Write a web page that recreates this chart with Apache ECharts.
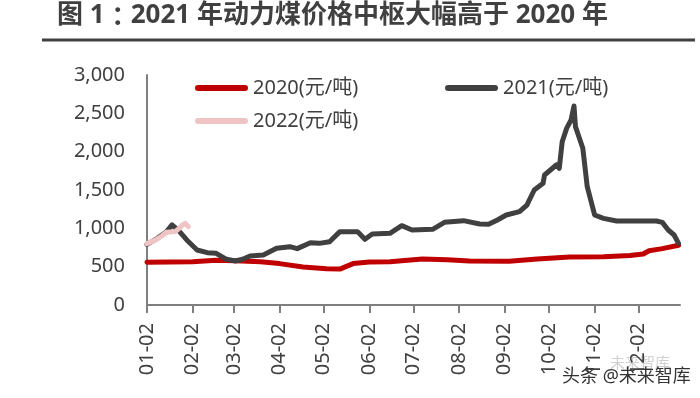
<!DOCTYPE html>
<html>
<head>
<meta charset="utf-8">
<script src="https://cdn.jsdelivr.net/npm/echarts@6/dist/echarts.min.js"></script>
<style>
  html, body { margin: 0; padding: 0; background: #fff; }
  #chart { width: 700px; height: 398px; }
</style>
</head>
<body>
<div id="chart"></div>
<script>
// 2021 calendar, daily categories from 01-02 to 12-30 (labels only on the 2nd)
const monthDays = [31, 28, 31, 30, 31, 30, 31, 31, 30, 31, 30, 31]
const firstDay = '01-02'
const lastDay = '12-30'

const names = ['2020(元/吨)', '2021(元/吨)', '2022(元/吨)']

// 2020
const dates2020 = ['01-02', '02-02', '02-18', '03-03', '03-20', '04-02', '04-18', '05-04', '05-13', '05-22',
  '06-02', '06-16', '07-08', '07-25', '08-09', '09-05', '09-24', '10-16', '11-08', '11-26',
  '12-05', '12-09', '12-18', '12-29']
const values2020 = [557, 565, 585, 578, 565, 540, 495, 472, 468, 540,
  560, 565, 600, 590, 574, 572, 600, 625, 628, 645,
  665, 708, 735, 780]

// 2021
const dates2021 = ['01-02', '01-09', '01-15', '01-19', '01-24', '01-29', '02-05', '02-12', '02-18', '02-25',
  '03-03', '03-08', '03-13', '03-22', '03-31', '04-09', '04-14', '04-23', '04-29', '05-06',
  '05-13', '05-25', '05-30', '06-04', '06-16', '06-24', '07-01', '07-15', '07-23', '08-05',
  '08-16', '08-22', '08-28', '09-03', '09-12', '09-17', '09-22', '09-28', '09-29', '10-07',
  '10-09', '10-11', '10-14', '10-17', '10-19', '10-20', '10-25', '10-28', '11-02', '11-08',
  '11-17', '12-14', '12-18', '12-22', '12-26', '12-29']
const values2021 = [790, 870, 950, 1045, 960, 848, 717, 683, 674, 596,
  574, 596, 639, 652, 739, 761, 735, 813, 804, 826,
  957, 957, 857, 926, 935, 1035, 978, 987, 1078, 1100,
  1057, 1052, 1109, 1174, 1217, 1304, 1500, 1587, 1696, 1826,
  1783, 2130, 2304, 2413, 2596, 2326, 2044, 1543, 1174, 1130,
  1096, 1096, 1078, 978, 913, 804]

// 2022
const dates2022 = ['01-02', '01-08', '01-12', '01-15', '01-21', '01-24', '01-26', '01-28', '01-30']
const values2022 = [800, 850, 900, 948, 957, 1000, 1043, 1065, 1022]

const pad = n => (n < 10 ? '0' : '') + n
const categories = []
let started = false
monthDays.forEach((len, m) => {
  for (let d = 1; d <= len; d++) {
    const key = pad(m + 1) + '-' + pad(d)
    if (key === firstDay) started = true
    if (started) categories.push(key)
    if (key === lastDay) started = false
  }
})

const pairs = (ds, vs) => ds.map((d, i) => [d, vs[i]])
const isTick = (idx, val) => val.slice(3) === '02'

const font = '"Noto Sans", "Noto Sans CJK SC", sans-serif'
const textColor = '#404040'
const capsule = 'path://M3,0 H50 A3,3 0 0 1 50,6 H3 A3,3 0 0 1 3,0 Z'

const legendBase = {
  orient: 'horizontal',
  padding: 0,
  itemWidth: 53,
  itemHeight: 6,
  icon: capsule,
  textStyle: { fontSize: 20, color: textColor, fontFamily: font }
}

const titleStyle = { fontSize: 26, fontWeight: 'bold', color: '#404040', fontFamily: font }

const chart = echarts.init(document.getElementById('chart'))
chart.setOption({
  animation: false,
  backgroundColor: '#fff',
  title: {
    text: '{a|图 1}{c|：}{a|2021 年动力煤价格中枢大幅高于 2020 年}',
    left: 57,
    top: 3,
    padding: 0,
    textStyle: {
      fontSize: 26,
      rich: {
        a: titleStyle,
        c: Object.assign({}, titleStyle, { fontFamily: '"Noto Sans CJK TC"' })
      }
    }
  },
  graphic: [
    { type: 'line', shape: { x1: 42, y1: 40, x2: 695, y2: 40 }, style: { stroke: '#404040', lineWidth: 3 } },
    { type: 'text', left: 610, top: 356, style: { text: '未来智库', fontSize: 15, fill: '#d0d0d0', fontFamily: font } },
    { type: 'text', left: 562, top: 368, style: { text: '头条 @未来智库', fontSize: 18, fill: '#333', fontFamily: font } }
  ],
  legend: [
    Object.assign({ data: [names[0]], left: 195, top: 78 }, legendBase),
    Object.assign({ data: [names[1]], left: 445, top: 78 }, legendBase),
    Object.assign({ data: [names[2]], left: 195, top: 111 }, legendBase)
  ],
  grid: { left: 147, right: 20, top: 75, bottom: 93 },
  xAxis: {
    type: 'category',
    data: categories,
    boundaryGap: false,
    axisLine: { lineStyle: { color: '#7f7f7f', width: 2 } },
    axisTick: { interval: isTick, length: 8, lineStyle: { color: '#7f7f7f', width: 2 } },
    axisLabel: {
      interval: isTick,
      rotate: 90,
      margin: 18,
      fontSize: 20,
      color: textColor,
      fontFamily: font
    },
    splitLine: { show: false }
  },
  yAxis: {
    type: 'value',
    min: 0,
    max: 3000,
    interval: 500,
    axisLine: { show: true, lineStyle: { color: '#7f7f7f', width: 2 } },
    axisTick: { show: false },
    axisLabel: {
      margin: 22,
      fontSize: 20,
      color: textColor,
      fontFamily: font,
      formatter: v => v.toLocaleString('en-US')
    },
    splitLine: { show: false }
  },
  series: [
    {
      name: names[0],
      type: 'line',
      data: pairs(dates2020, values2020),
      showSymbol: false,
      color: '#c00000',
      lineStyle: { width: 5, cap: 'round', join: 'round' }
    },
    {
      name: names[1],
      type: 'line',
      data: pairs(dates2021, values2021),
      showSymbol: false,
      color: '#404040',
      lineStyle: { width: 5, cap: 'round', join: 'round' }
    },
    {
      name: names[2],
      type: 'line',
      data: pairs(dates2022, values2022),
      showSymbol: false,
      color: '#efc4c4',
      lineStyle: { width: 5, cap: 'round', join: 'round' }
    }
  ]
})
</script>
</body>
</html>
